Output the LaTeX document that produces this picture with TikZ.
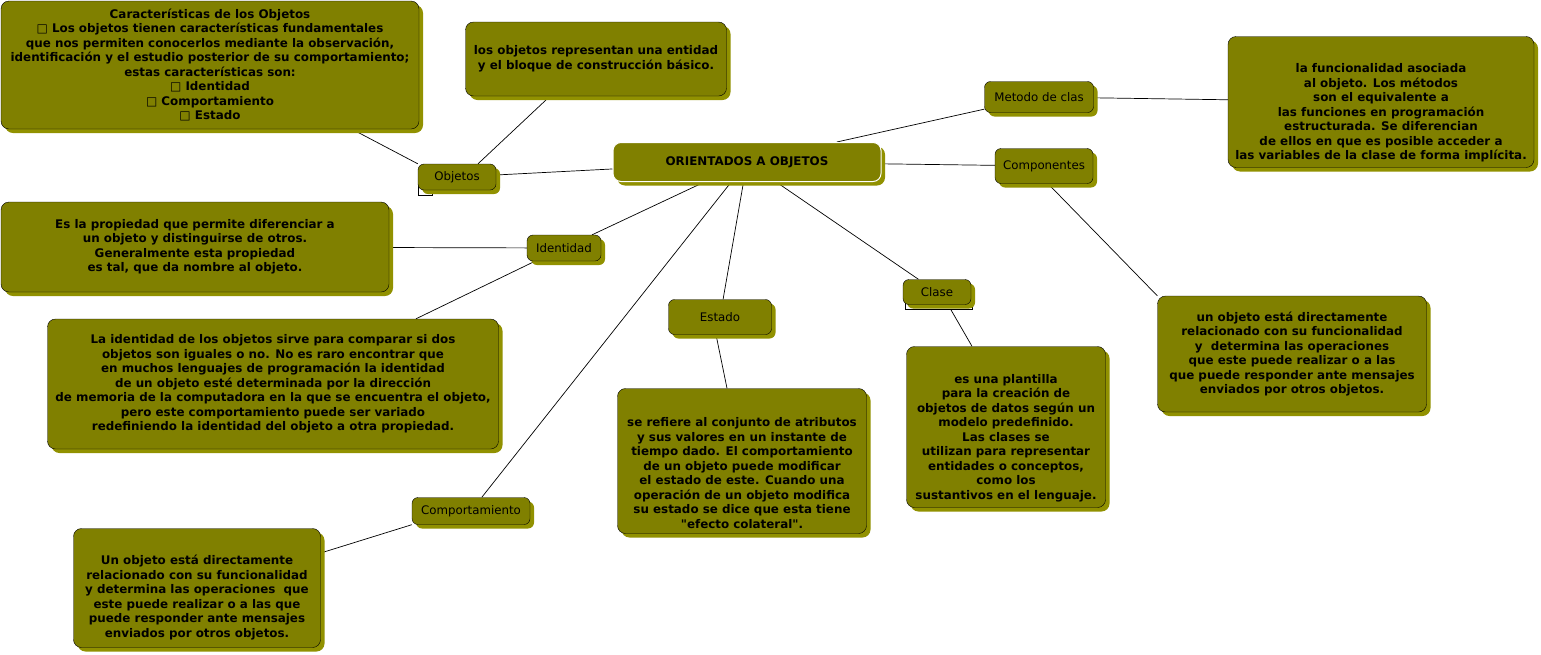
\documentclass[tikz,border=0pt]{standalone}
\usepackage{fontspec}
\setmainfont{DejaVu Sans}
\usetikzlibrary{shadows,backgrounds}
\definecolor{olivebox}{RGB}{128,128,0}
\definecolor{oliveshadow}{RGB}{145,145,0}

\begin{document}
\begin{tikzpicture}[x=1pt,y=-1pt,
    textbox/.style={draw=black, fill=olivebox, rounded corners=8pt, inner sep=0pt, align=center,
      font=\bfseries\fontsize{11.9}{14.5}\selectfont,
      drop shadow={shadow xshift=4pt, shadow yshift=-4pt, fill=oliveshadow, opacity=1}},
    concept/.style={textbox, rounded corners=6pt, font=\fontsize{11.8}{14}\selectfont},
    mainbox/.style={textbox, draw=white, line width=1pt},
    link/.style={draw=black, line width=0.7pt}]
  \def\pushdown#1{\rule{0pt}{#1pt}}
  % frame of the page
  \useasboundingbox (0,0) rectangle (1541,654);
  % leftovers under Objetos and Clase
  \draw[fill=white, line width=0.7pt] (418,172) rectangle (432,195);
  \draw[fill=white, line width=0.7pt] (905,296) rectangle (972,309);
  % centre
  \node[mainbox, minimum width=268pt, minimum height=39pt] (central) at (747,162) {ORIENTADOS A OBJETOS};
  % Objetos
  \node[textbox, minimum width=418pt, minimum height=128pt] (caract) at (210,65)
    {Características de los Objetos\\□ Los objetos tienen características fundamentales\\que nos permiten conocerlos mediante la observación,\\identificación y el estudio posterior de su comportamiento;\\estas características son:\\□ Identidad\\□ Comportamiento\\□ Estado};
  \node[textbox, minimum width=261pt, minimum height=74pt] (repres) at (596,59)
    {los objetos representan una entidad\\y el bloque de construcción básico.};
  \node[concept, minimum width=78pt, minimum height=26pt] (objetos) at (457,177) {Objetos};
  % Metodo de clas
  \node[concept, minimum width=109pt, minimum height=31pt] (metodo) at (1039,97) {Metodo de clas};
  \node[textbox, minimum width=306pt, minimum height=131pt] (funcion) at (1381,102)
    {\pushdown{31}la funcionalidad asociada\\al objeto. Los métodos\\son el equivalente a\\las funciones en programación\\estructurada. Se diferencian\\de ellos en que es posible acceder a\\las variables de la clase de forma implícita.};
  % Componentes
  \node[concept, minimum width=98pt, minimum height=35pt] (componentes) at (1044,166) {Componentes};
  \node[textbox, minimum width=269pt, minimum height=116pt] (compdesc) at (1292,354)
    {un objeto está directamente\\relacionado con su funcionalidad\\y \ determina las operaciones\\que este puede realizar o a las\\que puede responder ante mensajes\\enviados por otros objetos.};
  % Identidad
  \node[concept, minimum width=74pt, minimum height=26pt] (identidad) at (564,248) {Identidad};
  \node[textbox, minimum width=388pt, minimum height=90pt] (iddesc) at (195,247)
    {Es la propiedad que permite diferenciar a\\un objeto y distinguirse de otros.\\Generalmente esta propiedad\\es tal, que da nombre al objeto.};
  \node[textbox, minimum width=451pt, minimum height=130pt] (iddesc2) at (273,384)
    {La identidad de los objetos sirve para comparar si dos\\objetos son iguales o no. No es raro encontrar que\\en muchos lenguajes de programación la identidad\\de un objeto esté determinada por la dirección\\de memoria de la computadora en la que se encuentra el objeto,\\pero este comportamiento puede ser variado\\redefiniendo la identidad del objeto a otra propiedad.};
  % Estado
  \node[concept, minimum width=103pt, minimum height=35pt] (estado) at (720,317) {Estado};
  \node[textbox, minimum width=249pt, minimum height=145pt] (estdesc) at (742,461)
    {\pushdown{33}se refiere al conjunto de atributos\\y sus valores en un instante de\\tiempo dado. El comportamiento\\de un objeto puede modificar\\el estado de este. Cuando una\\operación de un objeto modifica\\su estado se dice que esta tiene\\\textquotedbl efecto colateral\textquotedbl.};
  % Clase
  \node[concept, minimum width=68pt, minimum height=25pt] (clase) at (937,292) {Clase};
  \node[textbox, minimum width=199pt, minimum height=161pt] (clasedesc) at (1006,427)
    {\pushdown{31}es una plantilla\\para la creación de\\objetos de datos según un\\modelo predefinido.\\Las clases se\\utilizan para representar\\entidades o conceptos,\\como los\\sustantivos en el lenguaje.};
  % Comportamiento
  \node[concept, minimum width=118pt, minimum height=27pt] (comport) at (471,511) {Comportamiento};
  \node[textbox, minimum width=247pt, minimum height=119pt] (compordesc) at (197,588)
    {\pushdown{29}Un objeto está directamente\\relacionado con su funcionalidad\\y determina las operaciones \ que\\este puede realizar o a las que\\puede responder ante mensajes\\enviados por otros objetos.};
  % connectors
  \begin{scope}[on background layer]
    \draw[link] (central) -- (objetos);
    \draw[link] ([xshift=142pt]caract.south) -- (objetos.north west);
    \draw[link] ([xshift=-46pt]repres.south) -- ([xshift=21pt]objetos.north);
    \draw[link] (central) -- (metodo);
    \draw[link] (metodo) -- (funcion);
    \draw[link] (central) -- (componentes);
    \draw[link] ([xshift=4pt]componentes.south) -- (compdesc.north west);
    \draw[link] (central) -- (identidad);
    \draw[link] (identidad) -- (iddesc);
    \draw[link] ([xshift=-29pt]identidad.south) -- ([xshift=143pt]iddesc2.north);
    \draw[link] (central) -- (estado);
    \draw[link] ([xshift=-4pt]estado.south) -- ([xshift=-15pt]estdesc.north);
    \draw[link] (central) -- (comport);
    \draw[link] (comport.south west) -- ([yshift=35pt]compordesc.east);
    \draw[link] (central) -- (clase);
    \draw[link] ([xshift=11pt]clase.south) -- ([xshift=-34pt]clasedesc.north);
  \end{scope}
\end{tikzpicture}
\end{document}
